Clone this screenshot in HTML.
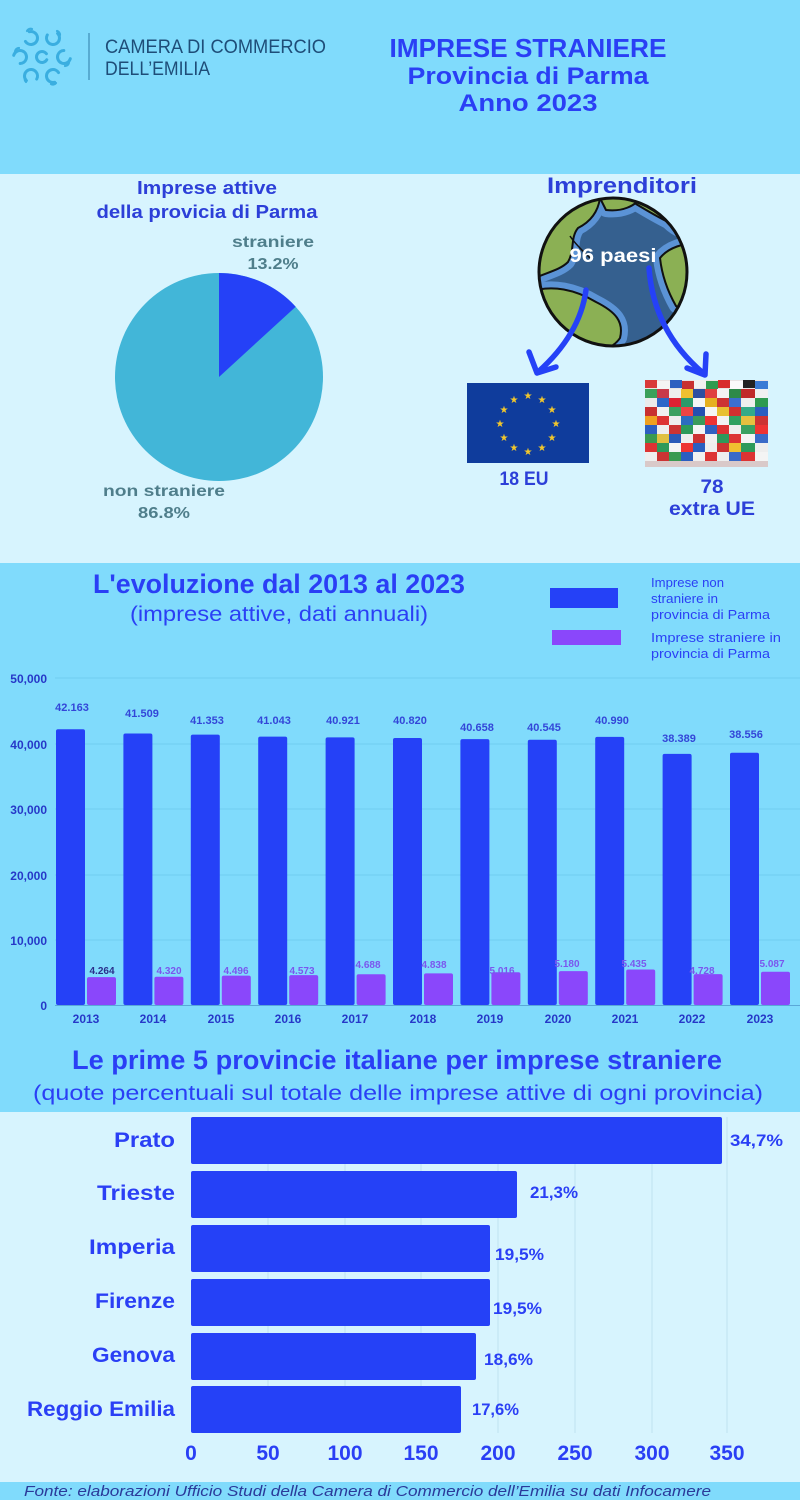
<!DOCTYPE html>
<html><head><meta charset="utf-8"><style>
html,body{margin:0;padding:0;width:800px;height:1500px;overflow:hidden;background:#d7f4fe}
svg{display:block}
text{font-family:"Liberation Sans",sans-serif}
</style></head><body>
<svg width="800" height="1500" viewBox="0 0 800 1500" xmlns="http://www.w3.org/2000/svg">
<defs><clipPath id="gc"><circle cx="613" cy="272" r="74"/></clipPath></defs>
<!-- backgrounds -->
<rect x="0" y="0" width="800" height="174" fill="#80dbfc"/>
<rect x="0" y="174" width="800" height="389" fill="#d7f4fe"/>
<rect x="0" y="563" width="800" height="549" fill="#80dbfc"/>
<rect x="0" y="1112" width="800" height="370" fill="#d7f4fe"/>
<rect x="0" y="1482" width="800" height="18" fill="#80dbfc"/>

<!-- logo -->
<g fill="none" stroke="#3aaee0" stroke-width="3" stroke-linecap="round" stroke-dasharray="28 12">
<circle cx="42" cy="57" r="5.5" transform="rotate(30 42 57)"/>
<circle cx="20" cy="57" r="6.5" transform="rotate(200 20 57)"/>
<circle cx="64" cy="57" r="6.5" transform="rotate(20 64 57)"/>
<circle cx="31" cy="38" r="6.5" transform="rotate(260 31 38)"/>
<circle cx="53" cy="38" r="6.5" transform="rotate(320 53 38)"/>
<circle cx="31" cy="76" r="6.5" transform="rotate(140 31 76)"/>
<circle cx="53" cy="76" r="6.5" transform="rotate(80 53 76)"/>
</g>
<g fill="none" stroke="#3aaee0" stroke-width="2.2" stroke-linecap="round">
<path d="M15,52 a4,4 0 0 1 4,-4"/><path d="M69,62 a4,4 0 0 1 -4,4"/>
<path d="M27,31 a4,4 0 0 1 5,-2"/><path d="M57,31 a4,4 0 0 1 3,4"/>
<path d="M26,82 a4,4 0 0 1 -1,-4"/><path d="M56,83 a4,4 0 0 1 -5,1"/>
</g>
<line x1="89" y1="33" x2="89" y2="80" stroke="#4a9cc4" stroke-width="1.5"/>
<text x="105" y="53" font-size="19" fill="#1e4d78" textLength="221" lengthAdjust="spacingAndGlyphs">CAMERA DI COMMERCIO</text>
<text x="105" y="75" font-size="19" fill="#1e4d78" textLength="105" lengthAdjust="spacingAndGlyphs">DELL’EMILIA</text>

<g fill="#2a3ff5" font-weight="bold" text-anchor="middle">
<text x="528" y="57" font-size="26" textLength="277" lengthAdjust="spacingAndGlyphs">IMPRESE STRANIERE</text>
<text x="528" y="84" font-size="24" textLength="241" lengthAdjust="spacingAndGlyphs">Provincia di Parma</text>
<text x="528" y="111" font-size="24" textLength="139" lengthAdjust="spacingAndGlyphs">Anno 2023</text>
</g>

<!-- pie section -->
<g fill="#2c3fd8" font-weight="bold" text-anchor="middle">
<text x="207" y="194" font-size="18" textLength="140" lengthAdjust="spacingAndGlyphs">Imprese attive</text>
<text x="207" y="218" font-size="18" textLength="221" lengthAdjust="spacingAndGlyphs">della provicia di Parma</text>
</g>
<circle cx="219" cy="377" r="104" fill="#42b6d8"/>
<path d="M219,377 L219,273 A104,104 0 0 1 295.7,306.7 Z" fill="#2541f7"/>
<g fill="#4f7e8b" font-weight="bold" text-anchor="middle" font-size="16">
<text x="273" y="247" textLength="82" lengthAdjust="spacingAndGlyphs">straniere</text>
<text x="273" y="269" textLength="51" lengthAdjust="spacingAndGlyphs">13.2%</text>
<text x="164" y="496" textLength="122" lengthAdjust="spacingAndGlyphs">non straniere</text>
<text x="164" y="518" textLength="52" lengthAdjust="spacingAndGlyphs">86.8%</text>
</g>

<!-- globe -->
<text x="622" y="193" font-size="22" font-weight="bold" fill="#2c3fd8" text-anchor="middle" textLength="150" lengthAdjust="spacingAndGlyphs">Imprenditori</text>
<circle cx="613" cy="272" r="74" fill="#35608f"/>
<g clip-path="url(#gc)">
<g fill="none" stroke="#5b93d6" stroke-width="14" stroke-linejoin="round">
<path d="M530,198 L600,198 C598,212 590,222 578,228 C570,238 575,250 568,262 C560,270 548,272 530,280Z"/>
<path d="M600,198 L640,198 C635,206 622,212 606,210Z"/>
<path d="M636,198 L700,198 L700,232 C688,236 676,230 668,222 C656,216 646,210 636,204Z"/>
<path d="M700,244 C684,242 668,248 660,258 C662,276 668,292 676,306 C686,312 700,300 700,290Z"/>
<path d="M530,292 C552,284 576,290 596,302 C616,312 624,322 620,338 C612,350 596,352 584,350 C566,350 548,352 530,352Z"/>
</g>
<g fill="#8bb054" stroke="#111" stroke-width="2" stroke-linejoin="round">
<path d="M530,198 L600,198 C598,212 590,222 578,228 C570,238 575,250 568,262 C560,270 548,272 530,280Z"/>
<path d="M600,198 L640,198 C635,206 622,212 606,210Z"/>
<path d="M636,198 L700,198 L700,232 C688,236 676,230 668,222 C656,216 646,210 636,204Z"/>
<path d="M700,244 C684,242 668,248 660,258 C662,276 668,292 676,306 C686,312 700,300 700,290Z"/>
<path d="M530,292 C552,284 576,290 596,302 C616,312 624,322 620,338 C612,350 596,352 584,350 C566,350 548,352 530,352Z"/>
</g>
<path d="M570,236 C575,244 582,250 590,258" fill="none" stroke="#111" stroke-width="1.5"/>
</g>
<circle cx="613" cy="272" r="74" fill="none" stroke="#111" stroke-width="3"/>
<text x="613" y="262" font-size="19" font-weight="bold" fill="#fff" text-anchor="middle" textLength="87" lengthAdjust="spacingAndGlyphs">96 paesi</text>
<g fill="none" stroke="#2541f7" stroke-width="5.5" stroke-linecap="round" stroke-linejoin="round">
<path d="M586,290 C582,320 565,348 538,372"/>
<path d="M529,352 L537,373 L556,367"/>
<path d="M649,268 C652,310 670,345 703,373"/>
<path d="M687,368 L705,375 L706,354"/>
</g>

<!-- EU flag -->
<rect x="467" y="383" width="122" height="80" fill="#0f3c9c"/>
<g fill="#f2c72c" font-size="10" text-anchor="middle">
<text x="528" y="399">★</text><text x="542" y="403">★</text><text x="552" y="413">★</text>
<text x="556" y="427">★</text><text x="552" y="441">★</text><text x="542" y="451">★</text>
<text x="528" y="455">★</text><text x="514" y="451">★</text><text x="504" y="441">★</text>
<text x="500" y="427">★</text><text x="504" y="413">★</text><text x="514" y="403">★</text>
</g>
<!-- flags mosaic -->
<g>
<rect x="645" y="380" width="123" height="87" fill="#e8e4e4"/>
<rect x="645" y="380" width="12" height="8" fill="#d93a3a"/><rect x="657" y="381" width="13" height="8" fill="#f4f4f4"/><rect x="670" y="380" width="12" height="8" fill="#2d5fc0"/><rect x="682" y="381" width="12" height="8" fill="#c83030"/><rect x="694" y="380" width="12" height="8" fill="#f0f0f0"/><rect x="706" y="381" width="12" height="8" fill="#2e9b4f"/><rect x="718" y="380" width="12" height="8" fill="#d82c2c"/><rect x="730" y="381" width="13" height="8" fill="#fafafa"/><rect x="743" y="380" width="12" height="8" fill="#222"/><rect x="755" y="381" width="13" height="8" fill="#3a7bd5"/>
<rect x="645" y="389" width="12" height="9" fill="#3aa05a"/><rect x="657" y="389" width="12" height="9" fill="#c83a4a"/><rect x="669" y="389" width="12" height="9" fill="#eee"/><rect x="681" y="389" width="12" height="9" fill="#f0c030"/><rect x="693" y="389" width="12" height="9" fill="#2d4fa0"/><rect x="705" y="389" width="12" height="9" fill="#e04040"/><rect x="717" y="389" width="12" height="9" fill="#f4f4f4"/><rect x="729" y="389" width="12" height="9" fill="#2d8a4a"/><rect x="741" y="389" width="14" height="9" fill="#c02a2a"/><rect x="755" y="389" width="13" height="9" fill="#f0f0f0"/>
<rect x="645" y="398" width="12" height="9" fill="#eaeaea"/><rect x="657" y="398" width="12" height="9" fill="#2a66c8"/><rect x="669" y="398" width="12" height="9" fill="#d23"/><rect x="681" y="398" width="12" height="9" fill="#2a9a6a"/><rect x="693" y="398" width="12" height="9" fill="#f5f5f5"/><rect x="705" y="398" width="12" height="9" fill="#e6b020"/><rect x="717" y="398" width="12" height="9" fill="#c33"/><rect x="729" y="398" width="12" height="9" fill="#3b6fd0"/><rect x="741" y="398" width="14" height="9" fill="#eee"/><rect x="755" y="398" width="13" height="9" fill="#2e9a50"/>
<rect x="645" y="407" width="12" height="9" fill="#c83030"/><rect x="657" y="407" width="12" height="9" fill="#f0f0f0"/><rect x="669" y="407" width="12" height="9" fill="#3ba060"/><rect x="681" y="407" width="12" height="9" fill="#e44"/><rect x="693" y="407" width="12" height="9" fill="#2450b0"/><rect x="705" y="407" width="12" height="9" fill="#f5f5f5"/><rect x="717" y="407" width="12" height="9" fill="#e8c030"/><rect x="729" y="407" width="12" height="9" fill="#d03030"/><rect x="741" y="407" width="14" height="9" fill="#3a8"/><rect x="755" y="407" width="13" height="9" fill="#2a5ec0"/>
<rect x="645" y="416" width="12" height="9" fill="#f0a020"/><rect x="657" y="416" width="12" height="9" fill="#d33"/><rect x="669" y="416" width="12" height="9" fill="#eee"/><rect x="681" y="416" width="12" height="9" fill="#2d6cc0"/><rect x="693" y="416" width="12" height="9" fill="#3a9a5a"/><rect x="705" y="416" width="12" height="9" fill="#e33"/><rect x="717" y="416" width="12" height="9" fill="#f2f2f2"/><rect x="729" y="416" width="12" height="9" fill="#30a060"/><rect x="741" y="416" width="14" height="9" fill="#e6c040"/><rect x="755" y="416" width="13" height="9" fill="#c33"/>
<rect x="645" y="425" width="12" height="9" fill="#2d5fc0"/><rect x="657" y="425" width="12" height="9" fill="#eee"/><rect x="669" y="425" width="12" height="9" fill="#c33"/><rect x="681" y="425" width="12" height="9" fill="#2d9a5a"/><rect x="693" y="425" width="12" height="9" fill="#f4f4f4"/><rect x="705" y="425" width="12" height="9" fill="#3060c0"/><rect x="717" y="425" width="12" height="9" fill="#d33"/><rect x="729" y="425" width="12" height="9" fill="#eee"/><rect x="741" y="425" width="14" height="9" fill="#3aa060"/><rect x="755" y="425" width="13" height="9" fill="#e33"/>
<rect x="645" y="434" width="12" height="9" fill="#3a9a50"/><rect x="657" y="434" width="12" height="9" fill="#e0c040"/><rect x="669" y="434" width="12" height="9" fill="#2a5ab8"/><rect x="681" y="434" width="12" height="9" fill="#eee"/><rect x="693" y="434" width="12" height="9" fill="#c33"/><rect x="705" y="434" width="12" height="9" fill="#f0f0f0"/><rect x="717" y="434" width="12" height="9" fill="#2d9a5a"/><rect x="729" y="434" width="12" height="9" fill="#d33"/><rect x="741" y="434" width="14" height="9" fill="#f4f4f4"/><rect x="755" y="434" width="13" height="9" fill="#3a6ac8"/>
<rect x="645" y="443" width="12" height="9" fill="#d33"/><rect x="657" y="443" width="12" height="9" fill="#2d9a5a"/><rect x="669" y="443" width="12" height="9" fill="#f4f4f4"/><rect x="681" y="443" width="12" height="9" fill="#e33"/><rect x="693" y="443" width="12" height="9" fill="#2a5ec0"/><rect x="705" y="443" width="12" height="9" fill="#eee"/><rect x="717" y="443" width="12" height="9" fill="#c33"/><rect x="729" y="443" width="12" height="9" fill="#f0c030"/><rect x="741" y="443" width="14" height="9" fill="#2d9a5a"/><rect x="755" y="443" width="13" height="9" fill="#eee"/>
<rect x="645" y="452" width="12" height="9" fill="#eee"/><rect x="657" y="452" width="12" height="9" fill="#c33"/><rect x="669" y="452" width="12" height="9" fill="#3a9a50"/><rect x="681" y="452" width="12" height="9" fill="#2a5ec0"/><rect x="693" y="452" width="12" height="9" fill="#f0f0f0"/><rect x="705" y="452" width="12" height="9" fill="#d33"/><rect x="717" y="452" width="12" height="9" fill="#eee"/><rect x="729" y="452" width="12" height="9" fill="#3a6ac8"/><rect x="741" y="452" width="14" height="9" fill="#d33"/><rect x="755" y="452" width="13" height="9" fill="#f4f4f4"/>
<rect x="645" y="461" width="123" height="6" fill="#d9c9c9"/>
</g>
<g fill="#2c3fd8" font-weight="bold" text-anchor="middle" font-size="19">
<text x="524" y="485" textLength="49" lengthAdjust="spacingAndGlyphs">18 EU</text>
<text x="712" y="493" textLength="23" lengthAdjust="spacingAndGlyphs">78</text>
<text x="712" y="515" textLength="86" lengthAdjust="spacingAndGlyphs">extra UE</text>
</g>

<!-- bar chart section -->
<g fill="#2a3ff5" font-weight="bold" text-anchor="middle">
<text x="279" y="593" font-size="27" textLength="372" lengthAdjust="spacingAndGlyphs">L'evoluzione dal 2013 al 2023</text>
<text x="279" y="621" font-size="21" font-weight="normal" textLength="298" lengthAdjust="spacingAndGlyphs">(imprese attive, dati annuali)</text>
</g>
<rect x="550" y="588" width="68" height="20" fill="#2541f7"/>
<rect x="552" y="630" width="69" height="15" fill="#8a47fb"/>
<g fill="#2a3ff5" font-size="12.5">
<text x="651" y="587" textLength="73" lengthAdjust="spacingAndGlyphs">Imprese non</text>
<text x="651" y="603" textLength="67" lengthAdjust="spacingAndGlyphs">straniere in</text>
<text x="651" y="619" textLength="119" lengthAdjust="spacingAndGlyphs">provincia di Parma</text>
<text x="651" y="642" textLength="130" lengthAdjust="spacingAndGlyphs">Imprese straniere in</text>
<text x="651" y="658" textLength="119" lengthAdjust="spacingAndGlyphs">provincia di Parma</text>
</g>
<g stroke="#70cdf0" stroke-width="1">
<line x1="55" y1="678" x2="800" y2="678"/><line x1="55" y1="744" x2="800" y2="744"/>
<line x1="55" y1="809" x2="800" y2="809"/><line x1="55" y1="875" x2="800" y2="875"/>
<line x1="55" y1="940" x2="800" y2="940"/>
</g>
<line x1="55" y1="1005.5" x2="800" y2="1005.5" stroke="#5aa8d8" stroke-width="1"/>
<g fill="#2638c8" font-weight="bold" font-size="12" text-anchor="end">
<text x="47" y="683">50,000</text><text x="47" y="749">40,000</text><text x="47" y="814">30,000</text>
<text x="47" y="880">20,000</text><text x="47" y="945">10,000</text><text x="47" y="1010">0</text>
</g>
<g fill="#2541f7">
<rect x="56" y="729.3" width="29" height="275.7" rx="2"/>
<rect x="123.4" y="733.5" width="29" height="271.5" rx="2"/>
<rect x="190.8" y="734.6" width="29" height="270.4" rx="2"/>
<rect x="258.2" y="736.6" width="29" height="268.4" rx="2"/>
<rect x="325.6" y="737.4" width="29" height="267.6" rx="2"/>
<rect x="393" y="738" width="29" height="267" rx="2"/>
<rect x="460.4" y="739.1" width="29" height="265.9" rx="2"/>
<rect x="527.8" y="739.8" width="29" height="265.2" rx="2"/>
<rect x="595.2" y="736.9" width="29" height="268.1" rx="2"/>
<rect x="662.6" y="753.9" width="29" height="251.1" rx="2"/>
<rect x="730" y="752.8" width="29" height="252.2" rx="2"/>
</g>
<g fill="#8a47fb">
<rect x="87" y="977.1" width="29" height="27.9" rx="2"/>
<rect x="154.4" y="976.7" width="29" height="28.3" rx="2"/>
<rect x="221.8" y="975.6" width="29" height="29.4" rx="2"/>
<rect x="289.2" y="975.1" width="29" height="29.9" rx="2"/>
<rect x="356.6" y="974.3" width="29" height="30.7" rx="2"/>
<rect x="424" y="973.4" width="29" height="31.6" rx="2"/>
<rect x="491.4" y="972.2" width="29" height="32.8" rx="2"/>
<rect x="558.8" y="971.1" width="29" height="33.9" rx="2"/>
<rect x="626.2" y="969.5" width="29" height="35.5" rx="2"/>
<rect x="693.6" y="974.1" width="29" height="30.9" rx="2"/>
<rect x="761" y="971.7" width="29" height="33.3" rx="2"/>
</g>
<g fill="#3346d8" font-weight="bold" font-size="11" text-anchor="middle">
<text x="72" y="711">42.163</text><text x="142" y="717">41.509</text><text x="207" y="724">41.353</text>
<text x="274" y="724">41.043</text><text x="343" y="724">40.921</text><text x="410" y="724">40.820</text>
<text x="477" y="731">40.658</text><text x="544" y="731">40.545</text><text x="612" y="724">40.990</text>
<text x="679" y="742">38.389</text><text x="746" y="738">38.556</text>
</g>
<g fill="#7a56ee" font-weight="bold" font-size="10" text-anchor="middle">
<text x="102" y="974" fill="#2a2e8a">4.264</text><text x="169" y="974">4.320</text><text x="236" y="974">4.496</text>
<text x="302" y="974">4.573</text><text x="368" y="968">4.688</text><text x="434" y="968">4.838</text>
<text x="502" y="974">5.016</text><text x="567" y="967">5.180</text><text x="634" y="967">5.435</text>
<text x="702" y="974">4.728</text><text x="772" y="967">5.087</text>
</g>
<g fill="#2638c8" font-weight="bold" font-size="12" text-anchor="middle">
<text x="86" y="1023">2013</text><text x="153" y="1023">2014</text><text x="221" y="1023">2015</text>
<text x="288" y="1023">2016</text><text x="355" y="1023">2017</text><text x="423" y="1023">2018</text>
<text x="490" y="1023">2019</text><text x="558" y="1023">2020</text><text x="625" y="1023">2021</text>
<text x="692" y="1023">2022</text><text x="760" y="1023">2023</text>
</g>

<!-- provinces -->
<g fill="#2a3ff5" font-weight="bold" text-anchor="middle">
<text x="397" y="1069" font-size="27" textLength="650" lengthAdjust="spacingAndGlyphs">Le prime 5 provincie italiane per imprese straniere</text>
<text x="398" y="1100" font-size="21" font-weight="normal" textLength="730" lengthAdjust="spacingAndGlyphs">(quote percentuali sul totale delle imprese attive di ogni provincia)</text>
</g>
<g stroke="#bfe2f0" stroke-width="1">
<line x1="268" y1="1117" x2="268" y2="1433"/><line x1="345" y1="1117" x2="345" y2="1433"/>
<line x1="421" y1="1117" x2="421" y2="1433"/><line x1="498" y1="1117" x2="498" y2="1433"/>
<line x1="575" y1="1117" x2="575" y2="1433"/><line x1="652" y1="1117" x2="652" y2="1433"/>
<line x1="727" y1="1117" x2="727" y2="1433"/>
</g>
<g fill="#2541f7">
<rect x="191" y="1117" width="531" height="47" rx="2"/>
<rect x="191" y="1171" width="326" height="47" rx="2"/>
<rect x="191" y="1225" width="299" height="47" rx="2"/>
<rect x="191" y="1279" width="299" height="47" rx="2"/>
<rect x="191" y="1333" width="285" height="47" rx="2"/>
<rect x="191" y="1386" width="270" height="47" rx="2"/>
</g>
<g fill="#2a3ff5" font-weight="bold" font-size="21" text-anchor="end">
<text x="175" y="1147" textLength="61" lengthAdjust="spacingAndGlyphs">Prato</text>
<text x="175" y="1200" textLength="78" lengthAdjust="spacingAndGlyphs">Trieste</text>
<text x="175" y="1254" textLength="86" lengthAdjust="spacingAndGlyphs">Imperia</text>
<text x="175" y="1308" textLength="80" lengthAdjust="spacingAndGlyphs">Firenze</text>
<text x="175" y="1362" textLength="83" lengthAdjust="spacingAndGlyphs">Genova</text>
<text x="175" y="1416" textLength="148" lengthAdjust="spacingAndGlyphs">Reggio Emilia</text>
</g>
<g fill="#2a3ff5" font-weight="bold" font-size="17">
<text x="730" y="1146" textLength="53" lengthAdjust="spacingAndGlyphs">34,7%</text>
<text x="530" y="1198" textLength="48" lengthAdjust="spacingAndGlyphs">21,3%</text>
<text x="495" y="1260" textLength="49" lengthAdjust="spacingAndGlyphs">19,5%</text>
<text x="493" y="1314" textLength="49" lengthAdjust="spacingAndGlyphs">19,5%</text>
<text x="484" y="1365" textLength="49" lengthAdjust="spacingAndGlyphs">18,6%</text>
<text x="472" y="1415" textLength="47" lengthAdjust="spacingAndGlyphs">17,6%</text>
</g>
<g fill="#2a3ff5" font-weight="bold" font-size="21" text-anchor="middle">
<text x="191" y="1460">0</text><text x="268" y="1460">50</text><text x="345" y="1460">100</text>
<text x="421" y="1460">150</text><text x="498" y="1460">200</text><text x="575" y="1460">250</text>
<text x="652" y="1460">300</text><text x="727" y="1460">350</text>
</g>

<!-- footer -->
<text x="24" y="1496" font-size="15" font-style="italic" fill="#2a3a9a" textLength="687" lengthAdjust="spacingAndGlyphs">Fonte: elaborazioni Ufficio Studi  della Camera di Commercio  dell’Emilia su dati Infocamere</text>
</svg>
</body></html>
